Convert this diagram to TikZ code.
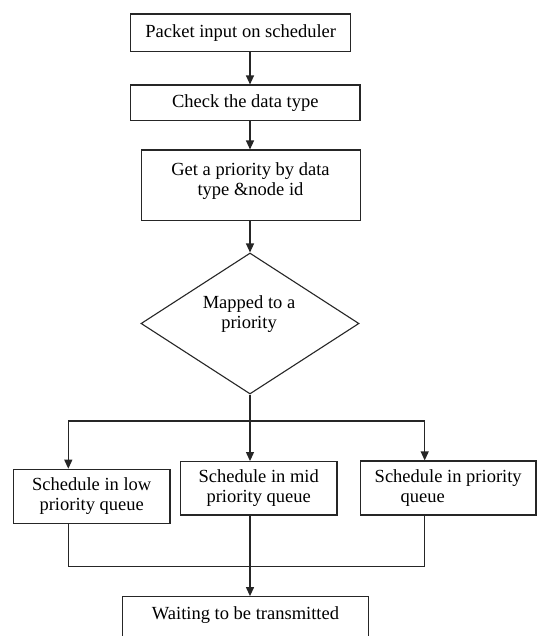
\documentclass[tikz,border=0pt]{standalone}
\usepackage{fontspec}
\setmainfont{Liberation Serif}
\usetikzlibrary{arrows.meta,shapes.geometric}
\begin{document}
\begin{tikzpicture}[x=1pt,y=-1pt,
  every node/.style={font=\fontsize{18.5}{20}\selectfont, text=black},
  box/.style={draw=black!85, line width=1.2pt, inner sep=0pt, align=center, rectangle},
  dia/.style={draw=black!85, line width=1.1pt, diamond, inner sep=0pt},
  flow/.style={draw=black!85, line width=1.2pt},
  arr/.style={flow, -{Triangle[length=9pt,width=8pt]}}]
\useasboundingbox (0,0) rectangle (538,636);
\clip (0,0) rectangle (538,636);
\fill[white] (0,0) rectangle (538,636);

\node[box, minimum width=220pt, minimum height=37.7pt] (b1) at (240.7,32.9) {Packet input on scheduler};
\node[box, minimum width=229.3pt, minimum height=35.7pt] (b2) at (245.3,102.9) {Check the data type};
\node[box, minimum width=219pt, minimum height=70.7pt] (b3) at (251.2,185.4) {};
\node[align=center] (b3t) at (250.5,181.5) {Get a priority by data\\type \&node id};
\node[dia, minimum width=218pt, minimum height=141pt] (d) at (250,323.5) {};
\node[align=center] (dt) at (249,314.5) {Mapped to a\\priority};
\node[box, minimum width=156.7pt, minimum height=54.4pt] (L) at (91.7,496.5) {Schedule in low\\priority queue};
\node[box, minimum width=156.7pt, minimum height=53.3pt] (M) at (258.7,488.3) {Schedule in mid\\priority queue};
\node[box, minimum width=175.7pt, minimum height=54pt, align=left] (R) at (448.2,488) {Schedule in priority\\\hspace*{26pt}queue};
\node[box, minimum width=246.4pt, minimum height=80pt] (W) at (245.5,636.7) {};
\node (Wt) at (245.5,615.3) {Waiting to be transmitted};

\coordinate (cx) at (250,0);
\coordinate (lx) at (68.3,0);
\coordinate (rx) at (424.7,0);
\coordinate (split) at (250,421);
\coordinate (merge) at (250,566.7);

\draw[arr] (cx |- b1.south) -- (cx |- b2.north);
\draw[arr] (cx |- b2.south) -- (cx |- b3.north);
\draw[arr] (cx |- b3.south) -- (d.north);
\draw[flow] (d.south) -- (split);
\draw[arr] (split) -| (lx |- L.north);
\draw[arr] (split) -| (rx |- R.north);
\draw[arr] (split) -- (cx |- M.north);
\draw[flow] (lx |- L.south) |- (merge) -| (rx |- R.south);
\draw[arr] (cx |- M.south) -- (cx |- W.north);
\end{tikzpicture}
\end{document}
